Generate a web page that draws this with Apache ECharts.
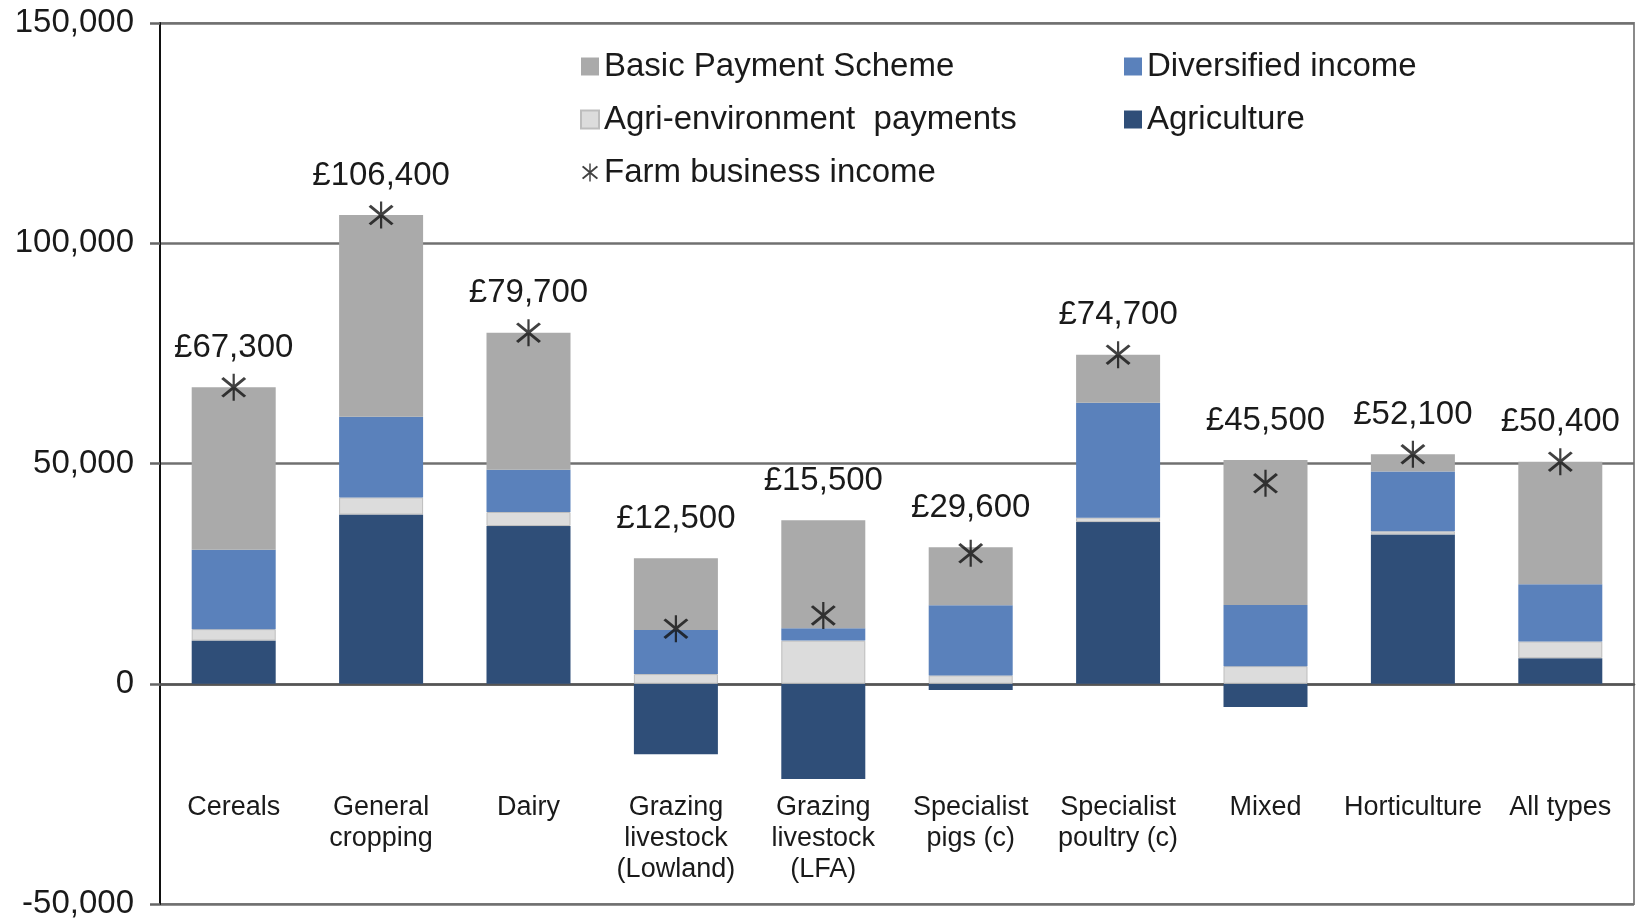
<!DOCTYPE html>
<html>
<head>
<meta charset="utf-8">
<title>Farm business income by farm type</title>
<style>
    * { margin: 0; padding: 0; }
    #main { width: 1637px; height: 919px; background: #fff; }
</style>
</head>
<body>
<div id="main"></div>
<script src="https://cdn.jsdelivr.net/npm/echarts@6/dist/echarts.min.js"></script>
<script>
// values (£ per farm)
var categories = ['Cereals', 'General\ncropping', 'Dairy', 'Grazing\nlivestock\n(Lowland)', 'Grazing\nlivestock\n(LFA)',
    'Specialist\npigs (c)', 'Specialist\npoultry (c)', 'Mixed', 'Horticulture', 'All types'];
var agriculture      = [9800, 38400, 35800, -16000, -21600, -1400, 36700, -5300, 33900, 5800];
var agriEnvironment  = [2600, 3900, 3200, 2200, 9800, 1900, 1000, 4000, 700, 3800];
var diversified      = [18000, 18300, 9600, 10000, 2800, 15900, 26100, 13900, 13600, 13000];
var basicPayment     = [36900, 45800, 31100, 16300, 24500, 13200, 10900, 32900, 3900, 27800];
var farmBusinessIncome = [67300, 106400, 79700, 12500, 15500, 29600, 74700, 45500, 52100, 50400];
var yTicks = [-50000, 0, 50000, 100000, 150000];

// asterisk marker: three thin bars
var star = 'path://M9.2,0L10.8,0L10.8,20L9.2,20Z M1,3.8L2.6,2.4L19,16.2L17.4,17.6Z M17.4,2.4L19,3.8L2.6,17.6L1,16.2Z';
var txt = '#1a1a1a';
var font = 'Liberation Sans, Arial, sans-serif';

var myChart = echarts.init(document.getElementById('main'));
var option = {
    animation: false,
    textStyle: { fontFamily: font, color: txt },
    grid: {
        left: 160, right: 3, top: 23, bottom: 15,
        containLabel: false, outerBoundsMode: 'none',
        show: true, borderColor: '#8a8a8a', borderWidth: 2
    },
    legend: [
        {
            orient: 'vertical', left: 575, top: 45, itemGap: 20,
            itemWidth: 18, itemHeight: 18, selectedMode: false,
            textStyle: { fontSize: 33, lineHeight: 33, color: txt, fontFamily: font },
            data: [
                { name: 'Basic Payment Scheme', icon: 'rect' },
                { name: 'Agri-environment  payments', icon: 'rect' },
                { name: 'Farm business income', icon: star }
            ]
        },
        {
            orient: 'vertical', left: 1119, top: 45, itemGap: 20,
            itemWidth: 18, itemHeight: 18, selectedMode: false,
            textStyle: { fontSize: 33, lineHeight: 33, color: txt, fontFamily: font },
            data: [
                { name: 'Diversified income', icon: 'rect' },
                { name: 'Agriculture', icon: 'rect' }
            ]
        }
    ],
    xAxis: {
        type: 'category',
        data: categories,
        axisLine: { onZero: true, lineStyle: { color: '#555', width: 2.5 } },
        axisTick: { show: false },
        axisLabel: {
            margin: -112, fontSize: 27, lineHeight: 31, color: txt,
            fontFamily: font, interval: 0, align: 'center', verticalAlign: 'top'
        }
    },
    yAxis: {
        type: 'value',
        min: yTicks[0], max: yTicks[yTicks.length - 1], interval: 50000,
        axisLine: { show: true, lineStyle: { color: '#111', width: 2 } },
        axisTick: { show: true, length: 10, lineStyle: { color: '#666', width: 2.5 } },
        axisLabel: {
            margin: 26, fontSize: 33, color: txt, fontFamily: font,
            formatter: function (v) { return v.toLocaleString('en-US'); }
        },
        splitLine: { show: true, lineStyle: { color: '#707070', width: 2.5 } }
    },
    series: [
        {
            name: 'Agriculture', type: 'bar', stack: 'fbi', barWidth: 84,
            itemStyle: { color: '#2f4e78' },
            data: agriculture
        },
        {
            name: 'Agri-environment  payments', type: 'bar', stack: 'fbi',
            itemStyle: { color: '#dcdcdc', borderColor: '#bdbdbd', borderWidth: 1 },
            data: agriEnvironment
        },
        {
            name: 'Diversified income', type: 'bar', stack: 'fbi',
            itemStyle: { color: '#5a81bb' },
            data: diversified
        },
        {
            name: 'Basic Payment Scheme', type: 'bar', stack: 'fbi',
            itemStyle: { color: '#aaaaaa' },
            label: {
                show: true, position: 'top', distance: 23,
                fontSize: 33, lineHeight: 33, color: txt, fontFamily: font,
                formatter: function (p) {
                    return '£' + farmBusinessIncome[p.dataIndex].toLocaleString('en-GB');
                }
            },
            data: basicPayment
        },
        {
            name: 'Farm business income', type: 'scatter',
            symbol: star, symbolSize: [25, 27], z: 5,
            itemStyle: { color: '#111' },
            data: farmBusinessIncome
        }
    ]
};
myChart.setOption(option);
</script>
</body>
</html>
